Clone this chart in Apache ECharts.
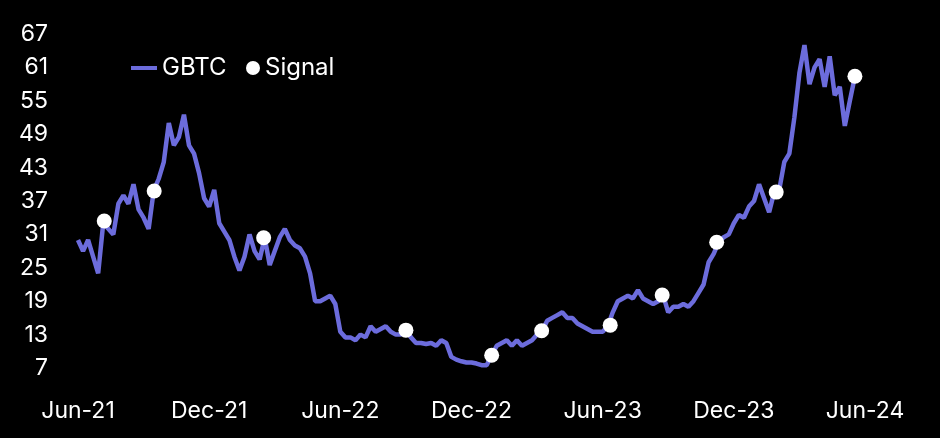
<!DOCTYPE html>
<html><head><meta charset="utf-8">
<script src="https://cdn.jsdelivr.net/npm/echarts@6/dist/echarts.min.js"></script>
<style>html,body{margin:0;padding:0;background:#000}#c{width:940px;height:438px}</style>
</head><body><div id="c"></div>
<script>
// x positions are weeks since 1 Jun 2021
const tickLabels = ['Jun-21','Dec-21','Jun-22','Dec-22','Jun-23','Dec-23','Jun-24'];
const weeksPerTick = 26;
const yMin = 7, yMax = 67, yStep = 6;

// GBTC weekly closing values (week 0 .. 154)
const gbtc = [
  30, 28, 30, 27, 24, 33, 32, 31, 36.5, 38,
  36.5, 40, 35.5, 34, 32, 38.8, 41, 44, 51, 47,
  48.5, 52.5, 47, 45.5, 42, 37.5, 36, 39, 33, 31.5,
  30, 27, 24.5, 27, 31, 28, 26.5, 30.4, 25.5, 28,
  30.5, 32, 30, 29, 28.5, 27, 24, 19, 19, 19.5,
  20, 18.5, 13.5, 12.5, 12.5, 12, 13, 12.5, 14.5, 13.5,
  14, 14.5, 13.5, 13, 13, 13.8, 12.5, 11.5, 11.5, 11.3,
  11.5, 11, 12, 11.5, 9, 8.5, 8.2, 8, 8, 7.8,
  7.5, 7.5, 9.3, 11, 11.5, 12, 11, 12, 11, 11.5,
  12, 13, 13.7, 15.5, 16, 16.5, 17, 16, 16, 15,
  14.5, 14, 13.5, 13.5, 13.5, 14.5, 17, 19, 19.5, 20,
  19.5, 21, 19.5, 19, 18.5, 19, 20, 17, 18, 18,
  18.5, 18, 19, 20.5, 22, 26, 27.5, 29.6, 30.5, 31,
  33, 34.5, 34, 36, 37, 40, 37.5, 35, 38.6, 39,
  44, 45.5, 52, 60, 65, 58, 61, 62.5, 57.5, 63,
  56, 57.5, 50.5, 55, 59.4
];

// Signal markers
const signalWeeks  = [5.2, 15.1, 36.8, 65, 82, 91.9, 105.5, 115.8, 126.6, 138.4, 154];
const signalValues = [33.4, 38.8, 30.4, 13.8, 9.3, 13.7, 14.7, 20.1, 29.6, 38.6, 59.4];

const FONT = 'Inter';
const lineData = gbtc.map((v, i) => [i, v]);
const sigData = signalWeeks.map((w, i) => [w, signalValues[i]]);

const chart = echarts.init(document.getElementById('c'));
chart.setOption({
  backgroundColor: '#000',
  animation: false,
  grid: { left: 78, right: 75, top: 34, bottom: 70, containLabel: false },
  legend: [
    { data: ['GBTC'], left: 126, top: 51, icon: 'rect', itemWidth: 26, itemHeight: 4,
      textStyle: { color: '#fff', fontSize: 24, fontFamily: FONT } },
    { data: ['Signal'], left: 241, top: 51, icon: 'circle', itemWidth: 14, itemHeight: 14,
      itemStyle: { color: '#fff', opacity: 1 },
      textStyle: { color: '#fff', fontSize: 24, fontFamily: FONT } }
  ],
  xAxis: {
    type: 'value', min: 0, max: weeksPerTick * (tickLabels.length - 1), interval: weeksPerTick,
    axisLine: { show: false }, axisTick: { show: false }, splitLine: { show: false },
    axisLabel: { color: '#fff', fontSize: 23, fontFamily: FONT, margin: 32,
      formatter: v => tickLabels[Math.round(v / weeksPerTick)] || '' }
  },
  yAxis: {
    type: 'value', min: yMin, max: yMax, interval: yStep,
    axisLine: { show: false }, axisTick: { show: false }, splitLine: { show: false },
    axisLabel: { color: '#fff', fontSize: 23, fontFamily: FONT, margin: 30 }
  },
  series: [
    { name: 'GBTC', type: 'line', data: lineData, showSymbol: false, symbol: 'none',
      lineStyle: { color: '#6c6cdc', width: 4.5 }, itemStyle: { color: '#6c6cdc' }, z: 2 },
    { name: 'Signal', type: 'scatter', data: sigData, symbolSize: 15,
      itemStyle: { color: '#ffffff', opacity: 1 }, z: 3 }
  ]
});
</script></body></html>
